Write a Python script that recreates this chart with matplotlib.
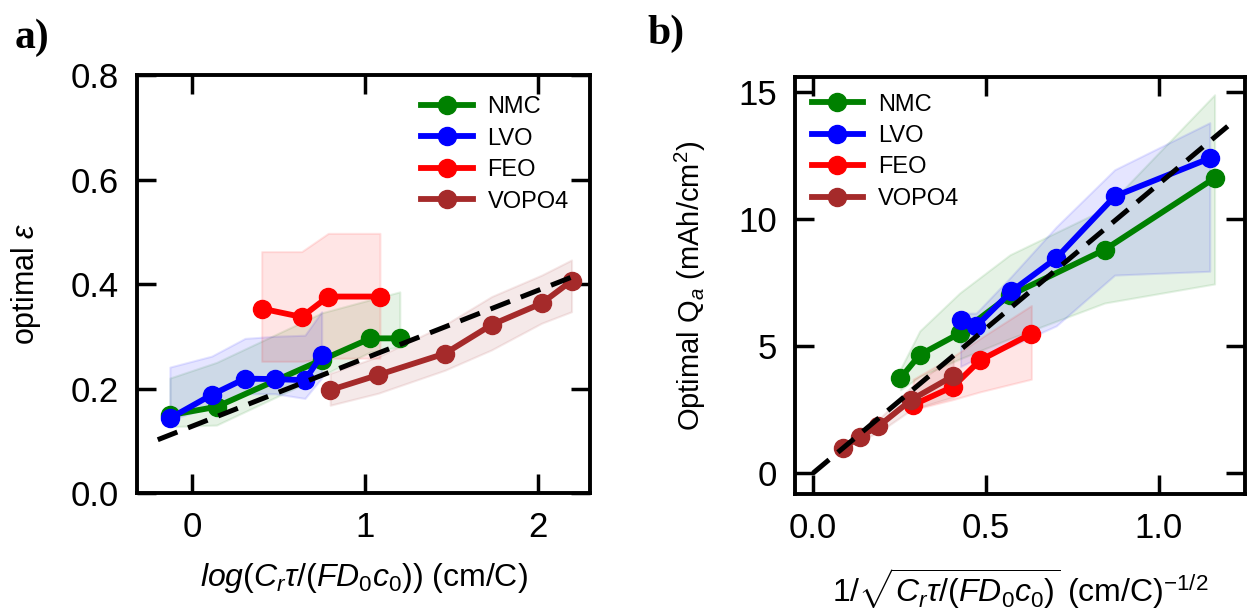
import matplotlib
matplotlib.use("Agg")
import matplotlib.pyplot as plt

plt.rcParams['font.family'] = ['Liberation Sans', 'DejaVu Sans']
plt.rcParams['mathtext.fontset'] = 'custom'
plt.rcParams['mathtext.rm'] = 'Liberation Sans'
plt.rcParams['mathtext.it'] = 'Liberation Sans:italic'
plt.rcParams['mathtext.bf'] = 'Liberation Sans:bold'

# ---------------- Panel a data ----------------
a_nmc_x = [-0.13, 0.14, 0.75, 1.03, 1.20]
a_nmc_y = [0.149, 0.165, 0.255, 0.296, 0.296]
a_nmc_hi = [0.22, 0.25, 0.345, 0.37, 0.385]
a_nmc_lo = [0.127, 0.13, 0.225, 0.27, 0.28]

a_lvo_x = [-0.13, 0.112, 0.305, 0.478, 0.651, 0.748]
a_lvo_y = [0.143, 0.188, 0.219, 0.218, 0.216, 0.264]
a_lvo_hi = [0.241, 0.262, 0.296, 0.300, 0.302, 0.347]
a_lvo_lo = [0.140, 0.165, 0.190, 0.190, 0.181, 0.220]

a_feo_x = [0.401, 0.632, 0.786, 1.085]
a_feo_y = [0.353, 0.337, 0.376, 0.376]
a_feo_hi = [0.462, 0.462, 0.497, 0.497]
a_feo_lo = [0.252, 0.252, 0.258, 0.258]

a_vopo_x = [0.797, 1.075, 1.461, 1.731, 2.02, 2.193]
a_vopo_y = [0.197, 0.226, 0.267, 0.322, 0.363, 0.406]
a_vopo_hi = [0.229, 0.261, 0.322, 0.376, 0.417, 0.446]
a_vopo_lo = [0.168, 0.191, 0.235, 0.274, 0.325, 0.347]

a_fit_x = [-0.2, 2.2]
a_fit_y = [0.102, 0.414]

# ---------------- Panel b data ----------------
b_nmc_x = [0.253, 0.309, 0.425, 0.57, 0.844, 1.162]
b_nmc_y = [3.74, 4.66, 5.51, 7.0, 8.80, 11.62]
b_nmc_hi = [4.1, 5.6, 7.1, 8.6, 10.4, 14.9]
b_nmc_lo = [3.28, 3.8, 4.5, 5.3, 6.7, 7.45]

b_lvo_x = [0.427, 0.472, 0.574, 0.704, 0.873, 1.148]
b_lvo_y = [6.04, 5.78, 7.16, 8.47, 10.9, 12.4]
b_lvo_hi = [6.3, 6.3, 7.75, 9.7, 11.95, 13.8]
b_lvo_lo = [4.2, 4.5, 5.0, 5.8, 7.8, 7.95]

b_feo_x = [0.29, 0.406, 0.483, 0.632]
b_feo_y = [2.69, 3.41, 4.44, 5.49]
b_feo_hi = [3.7, 4.6, 5.3, 6.6]
b_feo_lo = [2.5, 2.9, 3.2, 3.7]

b_vopo_x = [0.088, 0.136, 0.189, 0.285, 0.406]
b_vopo_y = [0.98, 1.44, 1.84, 2.89, 3.83]
b_vopo_hi = [1.1, 1.6, 2.1, 3.4, 4.6]
b_vopo_lo = [0.9, 1.3, 1.6, 2.5, 3.0]

b_fit_x = [0.0, 1.2]
b_fit_y = [0.0, 13.66]

labels = ['NMC', 'LVO', 'FEO', 'VOPO4']
colors = ['green', 'blue', 'red', 'brown']

fig = plt.figure(figsize=(12.49, 6.11), dpi=100)
axa = fig.add_axes([0.1097, 0.1931, 0.3627, 0.6841])
axb = fig.add_axes([0.6365, 0.1915, 0.3603, 0.6825])

def draw(ax, series, fit):
    for (x, y, hi, lo), lab, c in zip(series, labels, colors):
        ax.fill_between(x, lo, hi, color=c, alpha=0.1, lw=1.5)
    for (x, y, hi, lo), lab, c in zip(series, labels, colors):
        ax.plot(x, y, '-o', color=c, lw=4.2, ms=13, label=lab)
    ax.plot(fit[0], fit[1], '--', color='black', lw=3.6, dashes=(4.2, 2.3), zorder=5)
    for s in ax.spines.values():
        s.set_linewidth(2.8)
    ax.tick_params(direction='in', top=True, right=True, length=14, width=2.5,
                   labelsize=25, pad=13)

draw(axa, [(a_nmc_x, a_nmc_y, a_nmc_hi, a_nmc_lo),
           (a_lvo_x, a_lvo_y, a_lvo_hi, a_lvo_lo),
           (a_feo_x, a_feo_y, a_feo_hi, a_feo_lo),
           (a_vopo_x, a_vopo_y, a_vopo_hi, a_vopo_lo)], (a_fit_x, a_fit_y))
draw(axb, [(b_nmc_x, b_nmc_y, b_nmc_hi, b_nmc_lo),
           (b_lvo_x, b_lvo_y, b_lvo_hi, b_lvo_lo),
           (b_feo_x, b_feo_y, b_feo_hi, b_feo_lo),
           (b_vopo_x, b_vopo_y, b_vopo_hi, b_vopo_lo)], (b_fit_x, b_fit_y))

axa.set_xlim(-0.32, 2.30)
axa.set_ylim(0, 0.8)
axa.set_xticks([0, 1, 2])
axa.set_yticks([0.0, 0.2, 0.4, 0.6, 0.8])
axa.set_yticklabels(['0.0', '0.2', '0.4', '0.6', '0.8'])
axa.set_ylabel(r'optimal $\varepsilon$', fontsize=22, labelpad=20)
axa.set_xlabel(r'$log(C_r\tau/(FD_0c_0))$ (cm/C)', fontsize=23, labelpad=12)
axa.legend(loc='upper right', frameon=False, fontsize=17, handlelength=2.2,
           handletextpad=0.6, labelspacing=0.4, borderaxespad=0.5)

axb.set_xlim(-0.052, 1.25)
axb.set_ylim(-0.82, 15.6)
axb.set_xticks([0.0, 0.5, 1.0])
axb.set_xticklabels(['0.0', '0.5', '1.0'])
axb.set_yticks([0, 5, 10, 15])
axb.set_ylabel(r'Optimal Q$_a$ (mAh/cm$^2$)', fontsize=21, labelpad=22)
axb.set_xlabel(r'$1/\sqrt{C_r\tau/(FD_0c_0)}$ (cm/C)$^{-1/2}$', fontsize=23, labelpad=16)
axb.legend(loc='upper left', frameon=False, fontsize=17, handlelength=2.2,
           handletextpad=0.6, labelspacing=0.4, borderaxespad=0.3)

fig.text(0.012, 0.938, 'a)', fontsize=30, fontweight='bold', family='Liberation Serif', va='center')
fig.text(0.518, 0.945, 'b)', fontsize=30, fontweight='bold', family='Liberation Serif', va='center')

fig.savefig('out.png', dpi=100)
